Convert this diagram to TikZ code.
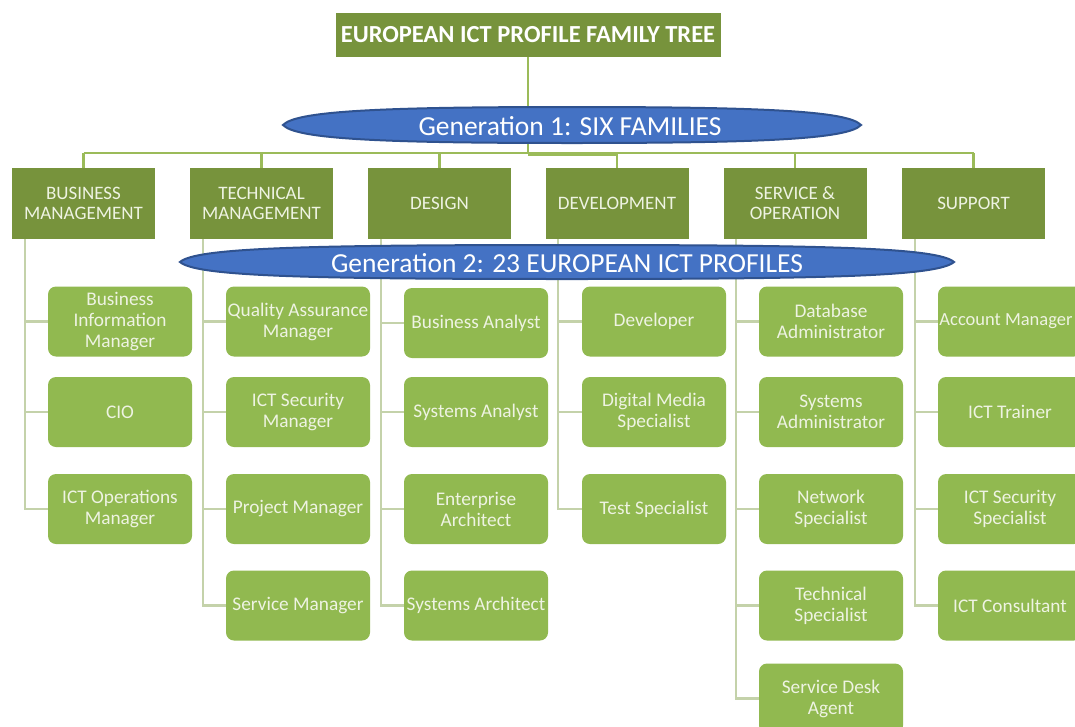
\documentclass[tikz,border=0pt]{standalone}
\usepackage{fontspec}
\setmainfont{Carlito}
\definecolor{famgreen}{RGB}{119,147,60}
\definecolor{rolegreen}{RGB}{145,185,80}
\definecolor{topline}{RGB}{155,187,89}
\definecolor{roleline}{RGB}{196,210,170}
\definecolor{genblue}{RGB}{68,114,196}
\definecolor{genborder}{RGB}{47,82,143}
\definecolor{famtext}{RGB}{238,243,226}
\begin{document}
\begin{tikzpicture}[x=1pt,y=-1pt,
  titlebox/.style={fill=famgreen, text=white, minimum width=385pt, minimum height=44pt, inner sep=0pt,
    font=\fontsize{24.5}{27}\selectfont\bfseries},
  fambox/.style={fill=famgreen, text=famtext, minimum width=143pt, minimum height=71pt, inner sep=0pt,
    align=center, font=\fontsize{19}{20}\selectfont},
  rolebox/.style={fill=rolegreen, text=famtext, rounded corners=8pt, minimum width=144pt, minimum height=70pt,
    inner sep=0pt, align=center, font=\fontsize{19.3}{21}\selectfont},
  genlabel/.style={text=white, inner sep=0pt, font=\fontsize{27.5}{30}\selectfont},
  topconn/.style={draw=topline, line width=2.5pt},
  roleconn/.style={draw=roleline, line width=2.2pt}
]
\useasboundingbox (0,0) rectangle (1075,726);
\clip (0,0) rectangle (1075,726);

% title
\node[titlebox] (title) at (528,35) {EUROPEAN ICT PROFILE FAMILY TREE};

% families
\node[fambox] (f1) at (83.5,203.5) {BUSINESS\\MANAGEMENT};
\node[fambox] (f2) at (261.5,203.5) {TECHNICAL\\MANAGEMENT};
\node[fambox] (f3) at (439.5,203.5) {DESIGN};
\node[fambox] (f4) at (617,203.5) {DEVELOPMENT};
\node[fambox] (f5) at (795,203.5) {SERVICE \&\\OPERATION};
\node[fambox] (f6) at (973.5,203.5) {SUPPORT};

% top connectors
\coordinate (hub) at (528,153);
\draw[topconn] (title.south) -- (hub);
\draw[topconn] (f1.north |- hub) -- (f6.north |- hub);
\draw[topconn] ([yshift=-2pt]hub) -- ([yshift=-2pt]f4.north |- hub);
\foreach \i in {1,...,6} { \draw[topconn] (f\i.north |- hub) -- (f\i.north); }

% spine start points
\foreach \c in {1,...,6} {
  \coordinate (s\c) at ([xshift=13pt]f\c.south west);
}

% roles
\node[rolebox] (r11) at (120,321.5) {Business\\Information\\Manager};
\node[rolebox] (r12) at (120,412) {CIO};
\node[rolebox] (r13) at (120,509) {ICT Operations\\Manager};

\node[rolebox] (r21) at (298,321.5) {Quality Assurance\\Manager};
\node[rolebox] (r22) at (298,412) {ICT Security\\Manager};
\node[rolebox] (r23) at (298,509) {Project Manager};
\node[rolebox] (r24) at (298,605.5) {Service Manager};

\node[rolebox] (r31) at (476,323) {Business Analyst};
\node[rolebox] (r32) at (476,412) {Systems Analyst};
\node[rolebox] (r33) at (476,509) {Enterprise\\Architect};
\node[rolebox] (r34) at (476,605.5) {Systems Architect};

\node[rolebox] (r41) at (654,321.5) {Developer};
\node[rolebox] (r42) at (654,412) {Digital Media\\Specialist};
\node[rolebox] (r43) at (654,509) {Test Specialist};

\node[rolebox] (r51) at (831,321.5) {Database\\Administrator};
\node[rolebox] (r52) at (831,412) {Systems\\Administrator};
\node[rolebox] (r53) at (831,509) {Network\\Specialist};
\node[rolebox] (r54) at (831,605.5) {Technical\\Specialist};
\node[rolebox] (r55) at (831,698.5) {Service Desk\\Agent};

\node[rolebox, font=\fontsize{18.5}{21}\selectfont] (r61) at (1010,321.5) {\hspace*{-8pt}Account Manager};
\node[rolebox] (r62) at (1010,412) {ICT Trainer};
\node[rolebox] (r63) at (1010,509) {ICT Security\\Specialist};
\node[rolebox] (r64) at (1010,605.5) {ICT Consultant};

% role connectors
\draw[roleconn] (s1) |- (r13.west);
\foreach \r in {r11,r12} { \draw[roleconn] (\r.west) -- (\r.west -| s1); }
\draw[roleconn] (s2) |- (r24.west);
\foreach \r in {r21,r22,r23} { \draw[roleconn] (\r.west) -- (\r.west -| s2); }
\draw[roleconn] (s3) |- (r34.west);
\foreach \r in {r31,r32,r33} { \draw[roleconn] (\r.west) -- (\r.west -| s3); }
\draw[roleconn] (s4) |- (r43.west);
\foreach \r in {r41,r42} { \draw[roleconn] (\r.west) -- (\r.west -| s4); }
\draw[roleconn] (s5) |- (r55.west);
\foreach \r in {r51,r52,r53,r54} { \draw[roleconn] (\r.west) -- (\r.west -| s5); }
\draw[roleconn] (s6) |- (r64.west);
\foreach \r in {r61,r62,r63} { \draw[roleconn] (\r.west) -- (\r.west -| s6); }

% generation ellipses
\draw[fill=genblue, draw=genborder, line width=2pt]
  (283,125) .. controls (296,111) and (380,107) .. (572,107)
  .. controls (764,107) and (848,111) .. (861,125)
  .. controls (848,139) and (764,143) .. (572,143)
  .. controls (380,143) and (296,139) .. (283,125) -- cycle;
\node[genlabel] (g1) at (570,126) {Generation 1: SIX FAMILIES};

\draw[fill=genblue, draw=genborder, line width=2pt]
  (180,262) .. controls (196,248) and (300,245) .. (567,245)
  .. controls (834,245) and (938,248) .. (954,262)
  .. controls (938,276) and (834,279) .. (567,279)
  .. controls (300,279) and (196,276) .. (180,262) -- cycle;
\node[genlabel] (g2) at (567,263) {Generation 2: 23 EUROPEAN ICT PROFILES};
\end{tikzpicture}
\end{document}
